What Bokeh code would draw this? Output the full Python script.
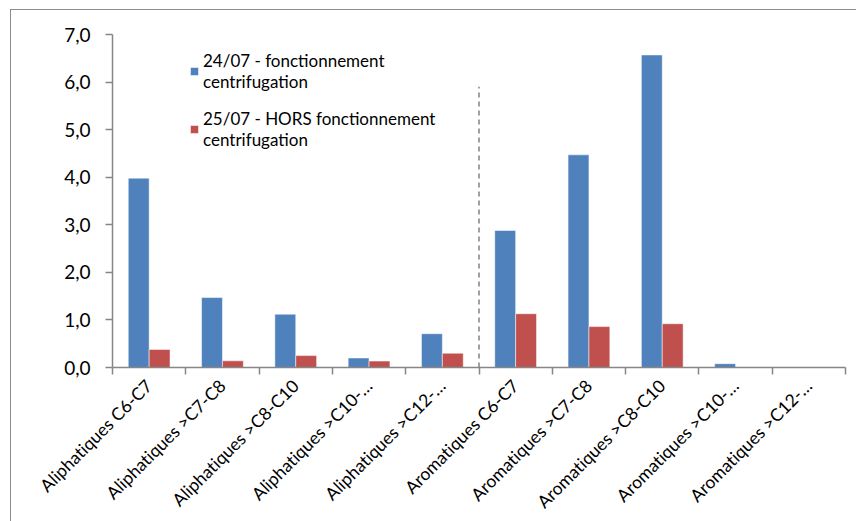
from bokeh.plotting import figure
from bokeh.models import ColumnDataSource, FixedTicker, Legend, LegendItem
from bokeh.transform import dodge
from bokeh.embed import file_html
from bokeh.resources import INLINE

# Hydrocarbon fractions and measured concentrations
categories = [
    "Aliphatiques C6-C7", "Aliphatiques >C7-C8", "Aliphatiques >C8-C10",
    "Aliphatiques >C10-…", "Aliphatiques >C12-…",
    "Aromatiques C6-C7", "Aromatiques >C7-C8", "Aromatiques >C8-C10",
    "Aromatiques >C10-…", "Aromatiques >C12-…",
]
series_2407 = [3.98, 1.47, 1.12, 0.20, 0.71, 2.88, 4.47, 6.57, 0.08, 0.0]
series_2507 = [0.38, 0.14, 0.25, 0.135, 0.30, 1.13, 0.86, 0.92, 0.0, 0.0]
label_2407 = "24/07 - fonctionnement\ncentrifugation"
label_2507 = "25/07 - HORS fonctionnement\ncentrifugation"
y_ticks = [0, 1, 2, 3, 4, 5, 6, 7]
y_tick_labels = ["0,0", "1,0", "2,0", "3,0", "4,0", "5,0", "6,0", "7,0"]
separator_top = 5.9  # height of the dashed aliphatic/aromatic separator

FONT = "Lato"
BLUE = "#4F81BD"
RED = "#C0504D"
AXIS = "#868686"

n = len(categories)
centers = [i + 0.5 for i in range(n)]
bar_w = 0.285

src = ColumnDataSource(dict(
    x=centers,
    a=series_2407,
    b=series_2507,
))

# the figure sits 10px / 9px inside the page, with a thin border on its
# left and top edges framing the chart area
p = figure(width=846, height=512, x_range=(0, n), y_range=(0, 7),
           output_backend="svg", toolbar_location=None,
           min_border_left=101, min_border_right=12,
           min_border_top=24, min_border_bottom=155)
p.styles = {"margin-left": "10px", "margin-top": "9px",
            "border-left": "1px solid #8c8c8c",
            "border-top": "1px solid #8c8c8c"}
p.stylesheets = ["text { font-variant-ligatures: none; }",
                 ":host { font-variant-ligatures: none; }"]
p.outline_line_color = None
p.xgrid.visible = False
p.ygrid.visible = False
p.background_fill_color = "white"
p.border_fill_color = "white"

r1 = p.vbar(x=dodge("x", -bar_w / 2), top="a", width=bar_w, source=src,
            fill_color=BLUE, line_color="white", line_alpha=0.5, line_width=1)
r2 = p.vbar(x=dodge("x", bar_w / 2), top="b", width=bar_w, source=src,
            fill_color=RED, line_color="white", line_alpha=0.5, line_width=1)

# dashed separator between the aliphatic and aromatic fractions
p.segment(x0=[5], y0=[0], x1=[5], y1=[separator_top], line_color="#A0A0A0",
          line_width=2, line_dash="5 4")

# x axis: labels at category centers, minor ticks between categories
xt = FixedTicker(ticks=centers, minor_ticks=list(range(n + 1)))
p.xaxis.ticker = xt
p.xaxis.major_label_overrides = {c: lab for c, lab in zip(centers, categories)}
p.xaxis.major_label_orientation = 0.785398
p.xaxis.major_tick_out = 0
p.xaxis.major_tick_in = 0
p.xaxis.minor_tick_out = 7
p.xaxis.minor_tick_in = 0
p.xaxis.minor_tick_line_color = AXIS
p.xaxis.minor_tick_line_width = 1.5
p.xaxis.axis_line_color = AXIS
p.xaxis.axis_line_width = 1.5
p.xaxis.major_label_text_font = FONT
p.xaxis.major_label_text_font_size = "17.5px"
p.xaxis.major_label_text_color = "black"
p.xaxis.major_label_standoff = 8

# y axis
p.yaxis.ticker = FixedTicker(ticks=y_ticks, minor_ticks=[])
p.yaxis.major_label_overrides = {t: s for t, s in zip(y_ticks, y_tick_labels)}
p.yaxis.major_tick_out = 7
p.yaxis.major_tick_in = 0
p.yaxis.major_tick_line_color = AXIS
p.yaxis.major_tick_line_width = 1.5
p.yaxis.axis_line_color = AXIS
p.yaxis.axis_line_width = 1.5
p.yaxis.major_label_text_font = FONT
p.yaxis.major_label_text_font_size = "19px"
p.yaxis.major_label_text_color = "black"
p.yaxis.major_label_standoff = 15

legend = Legend(items=[LegendItem(label=label_2407, renderers=[r1]),
                       LegendItem(label=label_2507, renderers=[r2])],
                location=(77, 217), orientation="vertical",
                border_line_color=None, background_fill_alpha=0,
                glyph_width=10, glyph_height=10, label_standoff=4,
                label_text_font=FONT, label_text_font_size="17px",
                label_text_color="black", spacing=16, padding=0, margin=0)
p.add_layout(legend)

open("out.html", "w").write(file_html(p, INLINE))
